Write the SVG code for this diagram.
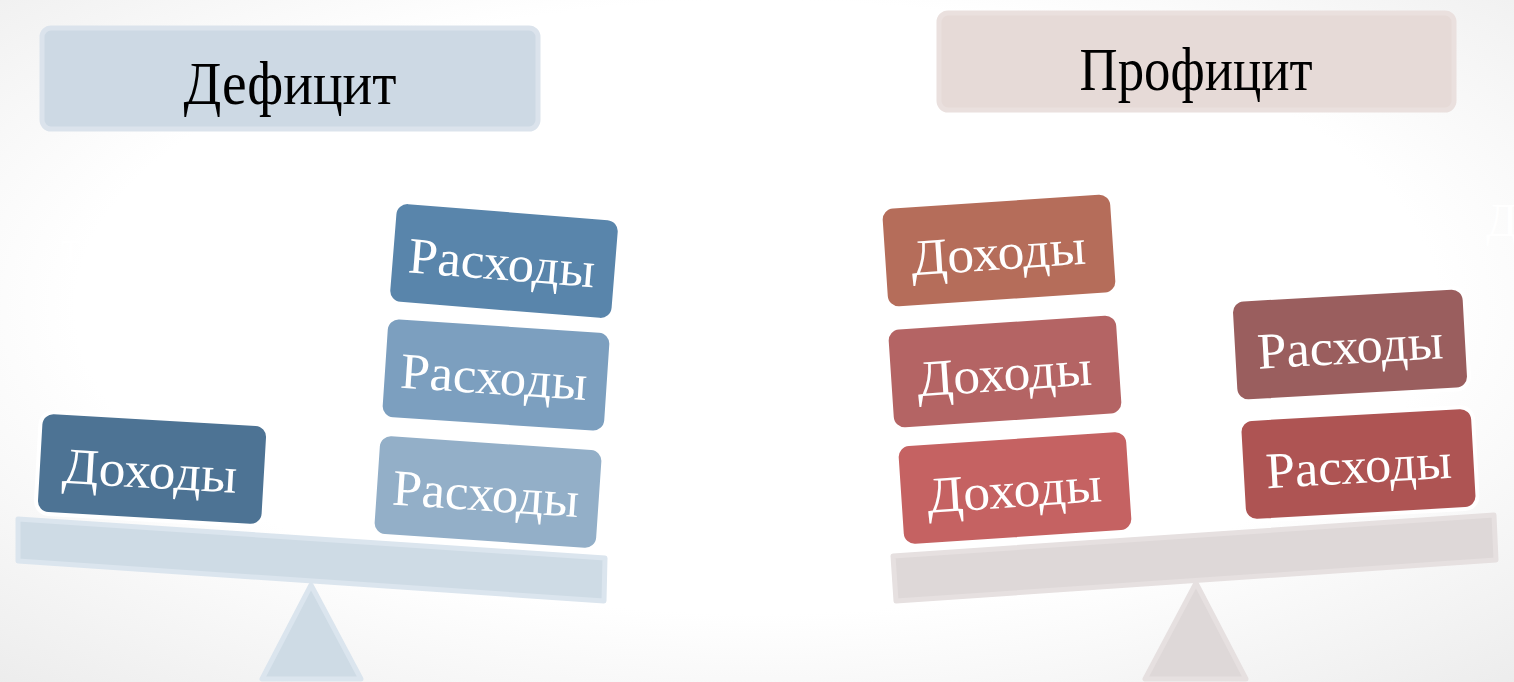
<svg xmlns="http://www.w3.org/2000/svg" width="1514" height="682" viewBox="0 0 1514 682">
  <defs>
    <radialGradient id="bg" cx="50%" cy="45%" r="75%">
      <stop offset="0" stop-color="#ffffff"/>
      <stop offset="0.6" stop-color="#ffffff"/>
      <stop offset="1" stop-color="#ececec"/>
    </radialGradient>
    <style>
      .hdr { font-family: "Liberation Serif", "Times New Roman", serif; font-size: 61px; fill: #000; text-anchor: middle; }
      .lbl { font-family: "Liberation Serif", "Times New Roman", serif; font-size: 51px; fill: #fff; text-anchor: middle; }
      .ghost { font-family: "Liberation Serif", "Times New Roman", serif; font-size: 46px; fill: #fff; }
      .blk { stroke: #ffffff; stroke-width: 4; }
      .blueBeam { fill: #cedbe5; stroke: #dbe5ee; stroke-width: 5; stroke-linejoin: round; }
      .redBeam { fill: #ded8d8; stroke: #e6e0e0; stroke-width: 5; stroke-linejoin: round; }
    </style>
  </defs>
  <rect width="1514" height="682" fill="url(#bg)"/>

  <text class="ghost" x="61" y="262">т</text>
  <text class="ghost" x="1486" y="236">Д</text>

  <!-- Left scale -->
  <g id="left-fulcrum">
    <polygon class="blueBeam" points="311,585 262,679 361,679"/>
  </g>
  <g id="left-beam">
    <polygon class="blueBeam" points="18,519 605,558 604,601 18,561"/>
  </g>

  <g id="deficit-header">
    <rect x="42" y="28" width="496" height="101" rx="9" fill="#cdd9e4" stroke="#dbe3ec" stroke-width="5"/>
    <text class="hdr" x="290" y="104" textLength="213" lengthAdjust="spacingAndGlyphs">Дефицит</text>
  </g>

  <g id="left-income" transform="translate(152,469) rotate(3.3)">
    <rect class="blk" x="-114" y="-51" width="228" height="102" rx="13" fill="#4d7394"/>
    <text class="lbl" x="-2" y="19" textLength="175" lengthAdjust="spacingAndGlyphs">Доходы</text>
  </g>

  <g id="left-expense-3" transform="translate(488,492) rotate(3.9)">
    <rect class="blk" x="-113" y="-51" width="226" height="102" rx="13" fill="#93afc8"/>
    <text class="lbl" x="-2" y="19" textLength="187" lengthAdjust="spacingAndGlyphs">Расходы</text>
  </g>
  <g id="left-expense-2" transform="translate(496,375) rotate(3.8)">
    <rect class="blk" x="-113" y="-51" width="226" height="102" rx="13" fill="#7c9fbf"/>
    <text class="lbl" x="-2" y="19" textLength="187" lengthAdjust="spacingAndGlyphs">Расходы</text>
  </g>
  <g id="left-expense-1" transform="translate(504,261) rotate(4.6)">
    <rect class="blk" x="-113" y="-51" width="226" height="102" rx="13" fill="#5985ab"/>
    <text class="lbl" x="-2" y="19" textLength="187" lengthAdjust="spacingAndGlyphs">Расходы</text>
  </g>

  <!-- Right scale -->
  <g id="right-fulcrum">
    <polygon class="redBeam" points="1196,583 1145,679 1246,679"/>
  </g>
  <g id="right-beam">
    <polygon class="redBeam" points="893,556 1494,515 1496,560 896,601"/>
  </g>

  <g id="surplus-header">
    <rect x="939" y="13" width="515" height="97" rx="9" fill="#e6dad7" stroke="#eae0de" stroke-width="5"/>
    <text class="hdr" x="1196" y="90" textLength="233" lengthAdjust="spacingAndGlyphs">Профицит</text>
  </g>

  <g id="right-income-3" transform="translate(1015,488) rotate(-3.8)">
    <rect class="blk" x="-116" y="-51" width="232" height="102" rx="13" fill="#c56262"/>
    <text class="lbl" x="-1" y="19" textLength="175" lengthAdjust="spacingAndGlyphs">Доходы</text>
  </g>
  <g id="right-income-2" transform="translate(1005,371.5) rotate(-3.8)">
    <rect class="blk" x="-116" y="-51" width="232" height="102" rx="13" fill="#b46464"/>
    <text class="lbl" x="-1" y="19" textLength="175" lengthAdjust="spacingAndGlyphs">Доходы</text>
  </g>
  <g id="right-income-1" transform="translate(999,250.5) rotate(-3.8)">
    <rect class="blk" x="-116" y="-51" width="232" height="102" rx="13" fill="#b56d5a"/>
    <text class="lbl" x="-1" y="19" textLength="175" lengthAdjust="spacingAndGlyphs">Доходы</text>
  </g>

  <g id="right-expense-2" transform="translate(1358.5,464) rotate(-3.2)">
    <rect class="blk" x="-117" y="-51" width="234" height="102" rx="13" fill="#ae5453"/>
    <text class="lbl" x="0" y="19" textLength="186" lengthAdjust="spacingAndGlyphs">Расходы</text>
  </g>
  <g id="right-expense-1" transform="translate(1350,344.5) rotate(-3.2)">
    <rect class="blk" x="-117" y="-51" width="234" height="102" rx="13" fill="#9a5e5e"/>
    <text class="lbl" x="0" y="19" textLength="186" lengthAdjust="spacingAndGlyphs">Расходы</text>
  </g>

  <g id="connectors"></g>
</svg>
